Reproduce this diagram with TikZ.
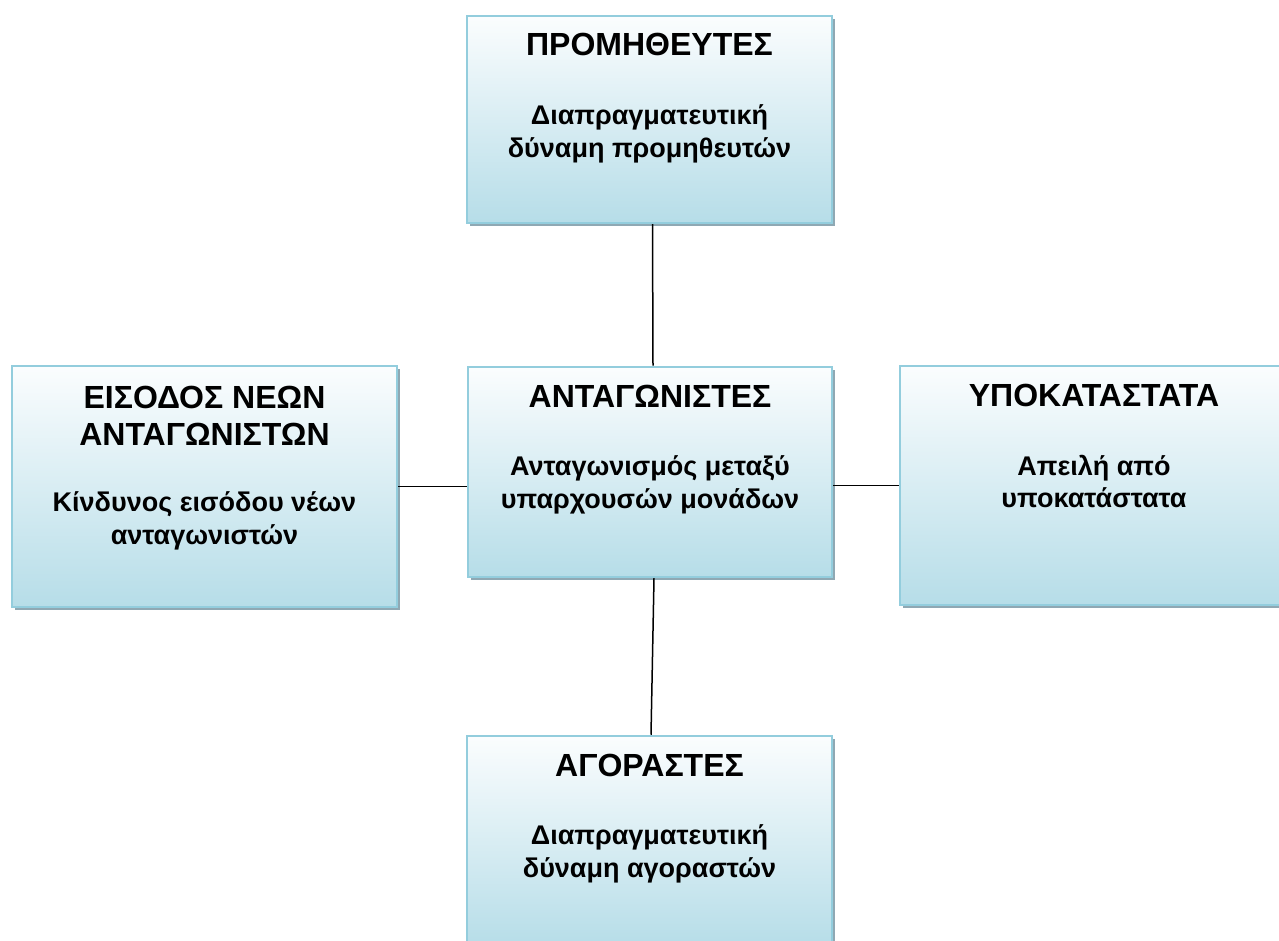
\documentclass[tikz,border=0pt]{standalone}
\usepackage{fontspec}
\setmainfont{Liberation Sans}
\usetikzlibrary{positioning,shadows}
\definecolor{boxedge}{HTML}{93CDDD}
\definecolor{boxbot}{HTML}{B6DDE8}
\definecolor{boxtop}{HTML}{FBFDFE}
\definecolor{boxshadow}{HTML}{8FA8B3}
\newcommand{\titlefont}{\fontsize{32}{37}\selectfont\bfseries}
\newcommand{\subfont}{\fontsize{27}{32.5}\selectfont\bfseries}
\begin{document}
\begin{tikzpicture}[x=1pt,y=1pt,every node/.style={inner sep=0pt}]
\tikzstyle{force}=[draw=boxedge,line width=2.5pt,top color=boxtop,bottom color=boxbot,
  drop shadow={shadow xshift=3pt,shadow yshift=-3pt,opacity=1,fill=boxshadow}]
\tikzstyle{head}=[font=\titlefont,align=center,anchor=base]
\tikzstyle{sub}=[font=\subfont,align=center,anchor=north]
\tikzstyle{link}=[draw,line width=1.5pt]
\useasboundingbox (0,0) rectangle (1279,940);

\node[force,minimum width=364pt,minimum height=210pt](ant) at (650,468){};
\node[force,minimum width=365pt,minimum height=207pt](prom) at (649.5,820.5){};
\node[force,minimum width=385pt,minimum height=241pt](eis) at (204.5,453.5){};
\node[force,minimum width=388pt,minimum height=239pt](ypo) at (1094,454.5){};
\node[force,minimum width=365pt,minimum height=210pt](agor) at (649.5,99){};

\node[head](antT) at ([yshift=-42pt]ant.north){ΑΝΤΑΓΩΝΙΣΤΕΣ};
\node[sub,below=48pt of antT.base](antS){Ανταγωνισμός μεταξύ\\υπαρχουσών μονάδων};

\node[head](promT) at ([yshift=-41pt]prom.north){ΠΡΟΜΗΘΕΥΤΕΣ};
\node[sub,below=49pt of promT.base](promS){Διαπραγματευτική\\δύναμη προμηθευτών};

\node[head,anchor=north](eisT) at ([yshift=-21pt]eis.north){ΕΙΣΟΔΟΣ ΝΕΩΝ\\ΑΝΤΑΓΩΝΙΣΤΩΝ};
\node[sub,below=46pt of eisT.south](eisS){Κίνδυνος εισόδου νέων\\ανταγωνιστών};

\node[head](ypoT) at ([yshift=-42pt]ypo.north){ΥΠΟΚΑΤΑΣΤΑΤΑ};
\node[sub,below=48pt of ypoT.base](ypoS){Απειλή από\\υποκατάστατα};

\node[head](agorT) at ([yshift=-42pt]agor.north){ΑΓΟΡΑΣΤΕΣ};
\node[sub,below=48pt of agorT.base](agorS){Διαπραγματευτική\\δύναμη αγοραστών};

\path[link]([xshift=3pt]prom.south)--([xshift=3pt]ant.north);
\path[link](eis.east)--(eis.east -| ant.west);
\path[link](ant.east |- ypo.west)--(ypo.west);
\path[link]([xshift=4pt]ant.south)--([xshift=1.5pt]agor.north);
\end{tikzpicture}
\end{document}
